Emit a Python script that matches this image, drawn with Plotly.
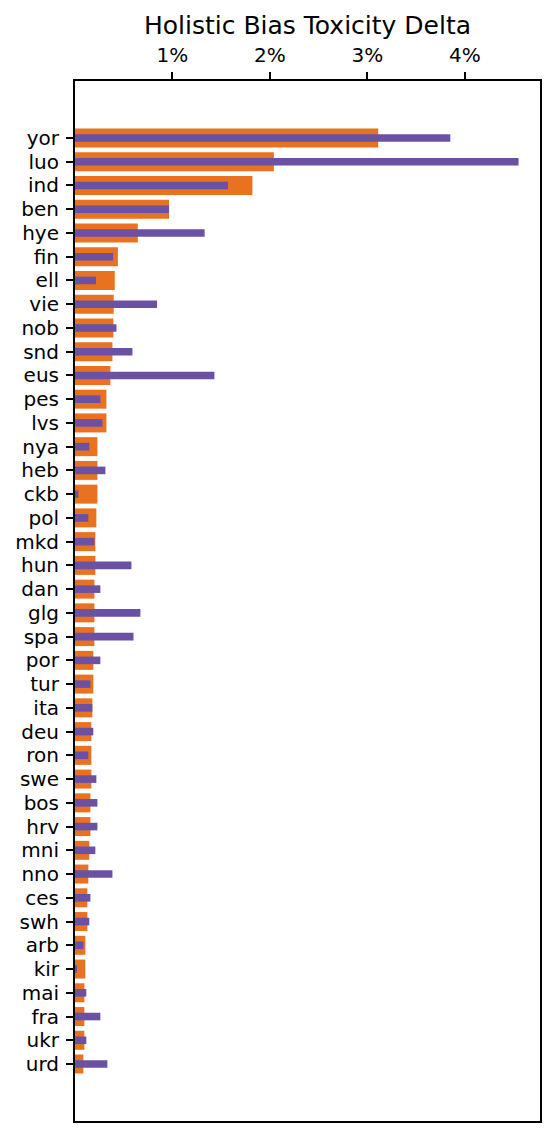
import plotly.graph_objects as go

ORANGE = "#E97220"
PURPLE = "#6A51A3"
FONT = "DejaVu Sans"

languages = [
    "yor", "luo", "ind", "ben", "hye", "fin", "ell", "vie", "nob", "snd",
    "eus", "pes", "lvs", "nya", "heb", "ckb", "pol", "mkd", "hun", "dan",
    "glg", "spa", "por", "tur", "ita", "deu", "ron", "swe", "bos", "hrv",
    "mni", "nno", "ces", "swh", "arb", "kir", "mai", "fra", "ukr", "urd",
]
# toxicity delta in %, orange (wide) bars
delta_orange = [
    3.11, 2.04, 1.82, 0.965, 0.644, 0.440, 0.408, 0.397, 0.394, 0.384,
    0.363, 0.322, 0.322, 0.230, 0.230, 0.230, 0.219, 0.209, 0.209, 0.199,
    0.199, 0.199, 0.188, 0.188, 0.178, 0.168, 0.168, 0.168, 0.158, 0.158,
    0.147, 0.137, 0.127, 0.127, 0.106, 0.106, 0.096, 0.096, 0.096, 0.086,
]
# toxicity delta in %, purple (thin) bars
delta_purple = [
    3.85, 4.55, 1.57, 0.965, 1.33, 0.390, 0.215, 0.841, 0.425, 0.589,
    1.43, 0.260, 0.281, 0.147, 0.312, 0.034, 0.137, 0.199, 0.579, 0.260,
    0.671, 0.600, 0.260, 0.158, 0.178, 0.188, 0.137, 0.219, 0.230, 0.230,
    0.209, 0.384, 0.158, 0.147, 0.086, 0.014, 0.116, 0.260, 0.116, 0.332,
]
x_ticks = [1, 2, 3, 4]

fig = go.Figure()
fig.add_trace(
    go.Bar(
        y=languages,
        x=delta_orange,
        orientation="h",
        width=0.8,
        marker=dict(color=ORANGE, line=dict(width=0)),
        showlegend=False,
    )
)
fig.add_trace(
    go.Bar(
        y=languages,
        x=delta_purple,
        orientation="h",
        width=0.32,
        marker=dict(color=PURPLE, line=dict(width=0)),
        showlegend=False,
    )
)

fig.update_layout(
    width=556,
    height=1136,
    barmode="overlay",
    plot_bgcolor="white",
    paper_bgcolor="white",
    font=dict(family=FONT, size=20, color="black"),
    margin=dict(l=75, r=16, t=81, b=15),
)
fig.update_xaxes(
    side="top",
    automargin=False,
    range=[0, 4.77],
    tickvals=x_ticks,
    ticktext=[f"{t}%" for t in x_ticks],
    ticks="outside",
    ticklen=7,
    tickwidth=1.6,
    tickcolor="black",
    ticklabelstandoff=2,
    showgrid=False,
    zeroline=False,
    showline=True,
    linecolor="black",
    linewidth=2,
    mirror=True,
    title=dict(text="Holistic Bias Toxicity Delta", font=dict(size=25), standoff=1),
)
fig.update_yaxes(
    type="category",
    automargin=False,
    tickmode="array",
    tickvals=languages,
    range=[len(languages) - 1 + 2.4, -2.4],
    ticks="outside",
    ticklen=7,
    tickwidth=1.6,
    tickcolor="black",
    ticklabelstandoff=3,
    showgrid=False,
    zeroline=False,
    showline=True,
    linecolor="black",
    linewidth=2,
    mirror=True,
)

# page body has an 8px default margin; drop it so the figure sits at 0,0
fig.write_html(
    "out.html",
    config={"displayModeBar": False},
    post_script="document.body.style.margin='0';",
)
